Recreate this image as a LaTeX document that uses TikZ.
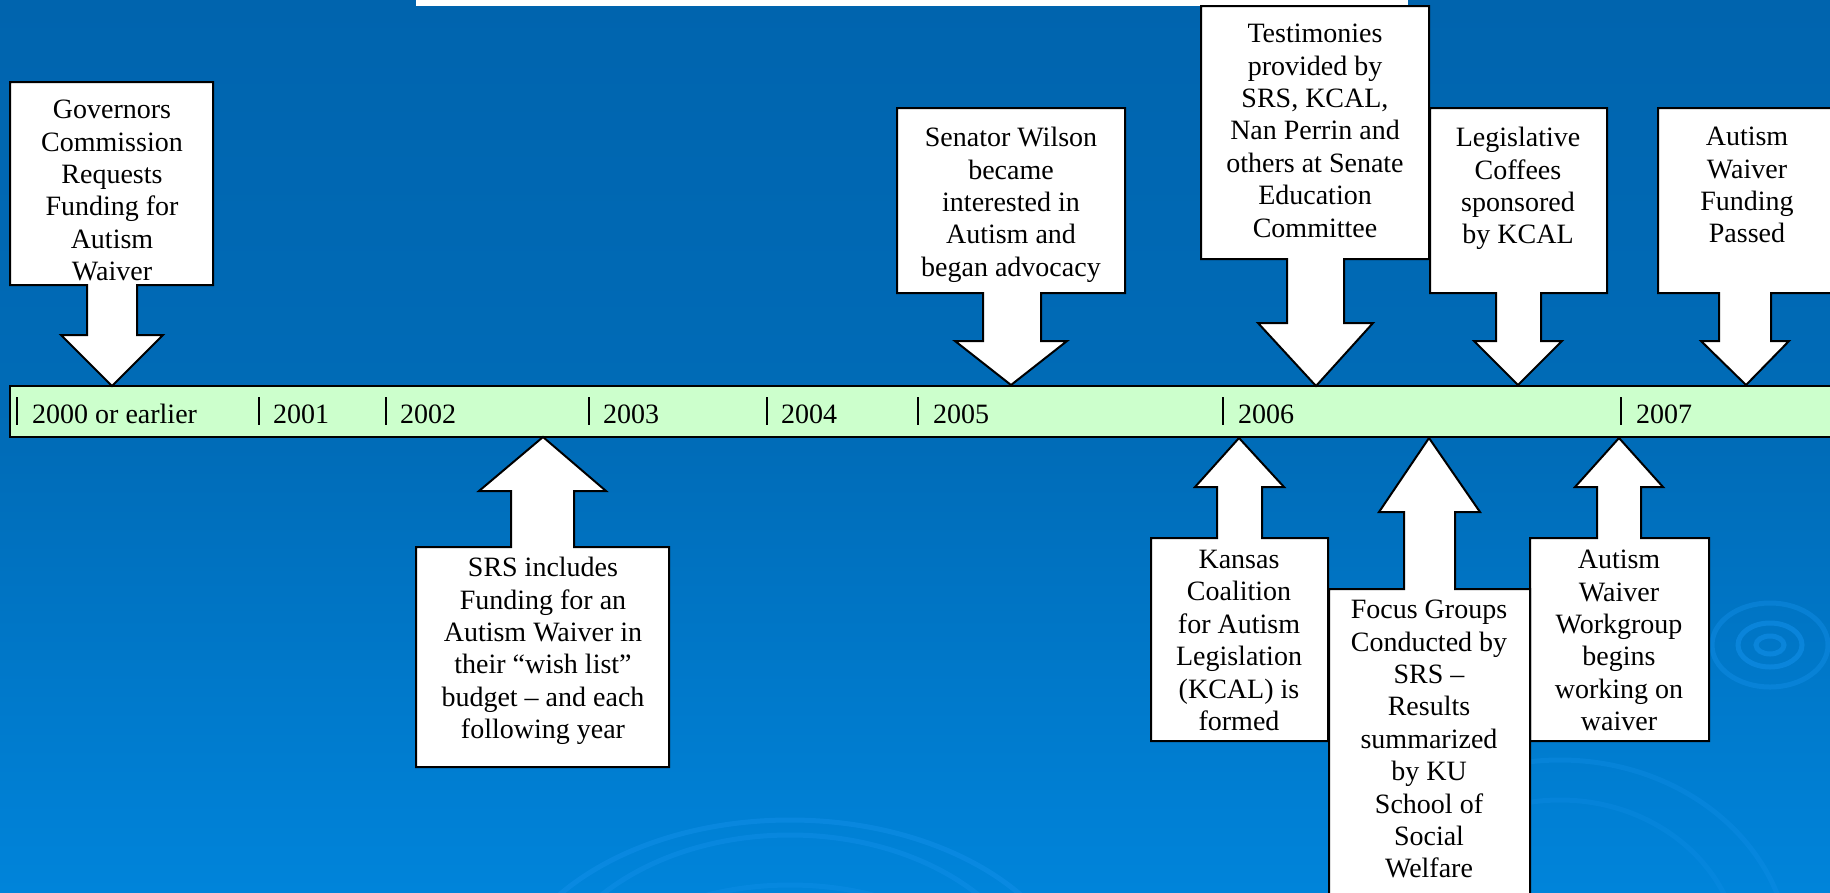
\documentclass[tikz,border=0pt]{standalone}
\usepackage{fontspec}
\setmainfont{Liberation Serif}
\newfontfamily\tnr{Liberation Serif}
\definecolor{bgtop}{RGB}{0,100,174}
\definecolor{bgmid}{RGB}{0,108,184}
\definecolor{bgbot}{RGB}{0,132,218}
\definecolor{ripple}{RGB}{20,145,235}
\definecolor{tlgreen}{RGB}{204,255,204}
\begin{document}
\begin{tikzpicture}[x=1pt,y=-1pt,
  callout/.style={fill=white,draw=black,line width=2pt,line join=miter},
  lbl/.style={align=center,inner sep=0pt,anchor=north,font=\tnr\fontsize{28}{32.4}\selectfont},
  yr/.style={inner sep=0pt,anchor=base west,font=\tnr\fontsize{28}{32.4}\selectfont},
  tick/.style={draw=black,line width=1.6pt},
  rip/.style={draw=ripple,line width=5pt,opacity=0.55}]
\useasboundingbox (0,0) rectangle (1830,892);
% background
\shade[top color=bgtop, bottom color=bgbot, middle color=bgmid] (0,0) rectangle (1830,892);
% ripple decorations
\draw[rip] (1770,645) ellipse [x radius=14, y radius=9];
\draw[rip] (1770,645) ellipse [x radius=32, y radius=22];
\draw[rip,opacity=0.4] (1770,645) ellipse [x radius=58, y radius=42];
\draw[rip,opacity=0.45] (790,1010) ellipse [x radius=290, y radius=190];
\draw[rip,opacity=0.4] (790,1010) ellipse [x radius=250, y radius=175];
\draw[rip,opacity=0.35] (790,1010) ellipse [x radius=210, y radius=125];
\draw[rip,opacity=0.3] (1560,960) ellipse [x radius=230, y radius=200];
\draw[rip,opacity=0.25] (1560,960) ellipse [x radius=180, y radius=160];
% white strip at the top
\fill[white] (416,0) rectangle (1408,6);
% timeline bar
\draw[fill=tlgreen,line width=2pt] (10,386) rectangle (1845,437);
\foreach \x in {17,259,386,589,767,918,1223,1621}
  \draw[tick] (\x,397) -- (\x,425);
\node[yr] (y2000) at (32,423) {2000 or earlier};
\node[yr] (y2001) at (273,423) {2001};
\node[yr] (y2002) at (400,423) {2002};
\node[yr] (y2003) at (603,423) {2003};
\node[yr] (y2004) at (781,423) {2004};
\node[yr] (y2005) at (933,423) {2005};
\node[yr] (y2006) at (1238,423) {2006};
\node[yr] (y2007) at (1636,423) {2007};
% down callouts
\draw[callout] (10,82) -- (213,82) -- (213,285) -- (137,285) -- (137,335) -- (163,335) -- (112,386) -- (61,335) -- (87,335) -- (87,285) -- (10,285) -- cycle;
\draw[callout] (897,108) -- (1125,108) -- (1125,293) -- (1041,293) -- (1041,341) -- (1067,341) -- (1011,385) -- (955,341) -- (983,341) -- (983,293) -- (897,293) -- cycle;
\draw[callout] (1201,6) -- (1429,6) -- (1429,259) -- (1344,259) -- (1344,323) -- (1373,323) -- (1316,386) -- (1258,323) -- (1287,323) -- (1287,259) -- (1201,259) -- cycle;
\draw[callout] (1430,108) -- (1607,108) -- (1607,293) -- (1541,293) -- (1541,341) -- (1562,341) -- (1518,385) -- (1474,341) -- (1496,341) -- (1496,293) -- (1430,293) -- cycle;
\draw[callout] (1658,108) -- (1845,108) -- (1845,293) -- (1771,293) -- (1771,341) -- (1789,341) -- (1746,385) -- (1701,341) -- (1719,341) -- (1719,293) -- (1658,293) -- cycle;
% up callouts
\draw[callout] (416,767) -- (669,767) -- (669,547) -- (574,547) -- (574,491) -- (606,491) -- (543,437) -- (479,491) -- (511,491) -- (511,547) -- (416,547) -- cycle;
\draw[callout] (1151,741) -- (1328,741) -- (1328,538) -- (1262,538) -- (1262,487) -- (1284,487) -- (1239,438) -- (1195,487) -- (1217,487) -- (1217,538) -- (1151,538) -- cycle;
\draw[callout] (1530,741) -- (1709,741) -- (1709,538) -- (1641,538) -- (1641,487) -- (1663,487) -- (1619,438) -- (1575,487) -- (1597,487) -- (1597,538) -- (1530,538) -- cycle;
\draw[callout] (1329,905) -- (1530,905) -- (1530,589) -- (1455,589) -- (1455,512) -- (1480,512) -- (1429,438) -- (1379,512) -- (1404,512) -- (1404,589) -- (1329,589) -- cycle;
% texts
\node[lbl] (gov) at (112,100) {Governors\\Commission\\Requests\\Funding for\\Autism\\Waiver};
\node[lbl] (sen) at (1011,127) {Senator Wilson\\became\\interested in\\Autism and\\began advocacy};
\node[lbl] (tes) at (1315,24) {Testimonies\\provided by\\SRS, KCAL,\\Nan Perrin and\\others at Senate\\Education\\Committee};
\node[lbl] (leg) at (1518,127) {Legislative\\Coffees\\sponsored\\by KCAL};
\node[lbl] (fun) at (1747,127) {Autism\\Waiver\\Funding\\Passed};
\node[lbl] (srs) at (543,557) {SRS includes\\Funding for an\\Autism Waiver in\\their “wish list”\\budget – and each\\following year};
\node[lbl] (kcal) at (1239,550) {Kansas\\Coalition\\for Autism\\Legislation\\(KCAL) is\\formed};
\node[lbl] (foc) at (1429,600) {Focus Groups\\Conducted by\\SRS –\\Results\\summarized\\by KU\\School of\\Social\\Welfare};
\node[lbl] (wrk) at (1619,550) {Autism\\Waiver\\Workgroup\\begins\\working on\\waiver};
\end{tikzpicture}
\end{document}
